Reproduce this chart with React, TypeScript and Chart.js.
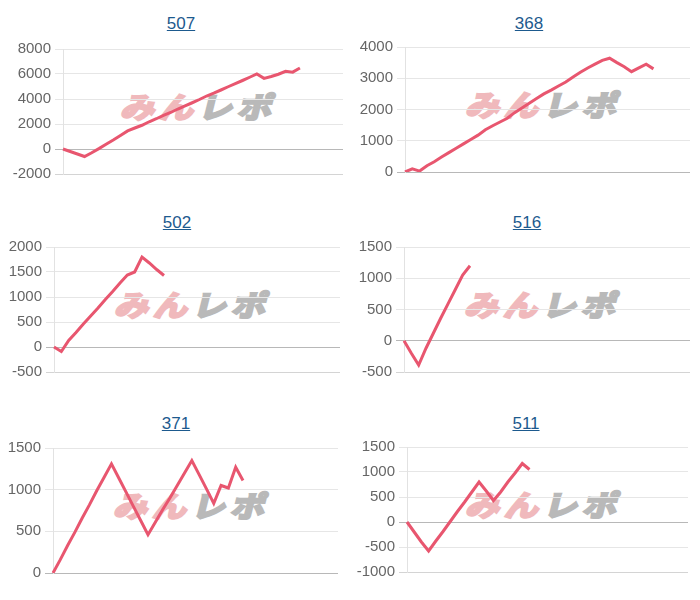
import React, { useEffect, useRef } from "react";
import { Chart, registerables } from "chart.js";

Chart.register(...registerables);

// x labels (game index), shared by all panels
const gameLabels = [
  "1", "2", "3", "4", "5", "6", "7", "8", "9", "10",
  "11", "12", "13", "14", "15", "16", "17", "18", "19", "20",
  "21", "22", "23", "24", "25", "26", "27", "28", "29", "30",
  "31", "32", "33", "34", "35", "36", "37", "38", "39", "40",
];

const titles = ["507", "368", "502", "516", "371", "511"];

const values507 = [
  0, -200, -400, -600, -300, 30, 380, 720, 1080, 1450, 1680, 1900, 2180, 2420, 2690, 2920, 3200,
  3450, 3700, 3960, 4240, 4470, 4720, 4980, 5230, 5480, 5740, 6000, 5650, 5800, 5980, 6220, 6150, 6480,
];
const values368 = [
  0, 100, 30, 200, 330, 480, 620, 760, 900, 1040, 1180, 1350, 1480, 1600, 1720, 1900, 2050, 2200,
  2350, 2500, 2620, 2750, 2880, 3040, 3190, 3330, 3450, 3570, 3640, 3500, 3370, 3210, 3330, 3450, 3300,
];
const values502 = [0, -90, 130, 290, 460, 620, 780, 950, 1110, 1280, 1440, 1500, 1800, 1680, 1550, 1430];
const values516 = [0, -200, -390, -120, 120, 360, 590, 820, 1050, 1200];
const values371 = [
  0, 160, 330, 490, 660, 820, 990, 1150, 1310, 1140, 970, 800, 630, 460, 610, 760, 900, 1050, 1200,
  1350, 1180, 1010, 835, 1050, 1020, 1270, 1110,
];
const values511 = [0, -200, -400, -580, -380, -190, 10, 210, 400, 600, 800, 620, 430, 600, 800, 980, 1170, 1050];

const yMins = [-2000, 0, -500, -500, 0, -1000];
const yMaxs = [8000, 4000, 2000, 1500, 1500, 1500];
const ySteps = [2000, 1000, 500, 500, 500, 500];
const seriesList = [values507, values368, values502, values516, values371, values511];

// layout of each panel (page pixels)
const panels = [
  { left: 0, plotLeft: 63, plotRight: 343, plotTop: 48, plotBottom: 175, titleX: 181, titleY: 24 },
  { left: 350, plotLeft: 405, plotRight: 690, plotTop: 46, plotBottom: 173, titleX: 529, titleY: 24 },
  { left: 0, plotLeft: 54, plotRight: 340, plotTop: 246, plotBottom: 373, titleX: 177, titleY: 223 },
  { left: 350, plotLeft: 404, plotRight: 690, plotTop: 246, plotBottom: 373, titleX: 527, titleY: 223 },
  { left: 0, plotLeft: 53, plotRight: 338, plotTop: 447, plotBottom: 574, titleX: 176, titleY: 424 },
  { left: 350, plotLeft: 407, plotRight: 688, plotTop: 446, plotBottom: 573, titleX: 526, titleY: 424 },
];

const PAD = 12;
const LINE_COLOR = "#e8566f";

function Panel({ idx }: { idx: number }) {
  const ref = useRef<HTMLCanvasElement | null>(null);
  const p = panels[idx];
  const width = p.plotRight - p.left;
  const height = p.plotBottom - p.plotTop + PAD * 2;
  const axisWidth = p.plotLeft - p.left;

  useEffect(() => {
    if (!ref.current) return;
    const chart = new Chart(ref.current, {
      type: "line",
      data: {
        labels: gameLabels,
        datasets: [
          {
            data: seriesList[idx],
            borderColor: LINE_COLOR,
            backgroundColor: LINE_COLOR,
            borderWidth: 3,
            pointRadius: 0,
            tension: 0,
            fill: false,
          },
        ],
      },
      options: {
        animation: false,
        responsive: false,
        maintainAspectRatio: false,
        layout: { padding: { top: PAD, bottom: PAD, left: 0, right: 0 } },
        plugins: { legend: { display: false }, tooltip: { enabled: false }, title: { display: false } },
        scales: {
          x: { display: false },
          y: {
            min: yMins[idx],
            max: yMaxs[idx],
            afterFit: (axis: any) => {
              axis.width = axisWidth;
            },
            ticks: {
              stepSize: ySteps[idx],
              color: "#666",
              padding: 4,
              font: { family: "'Liberation Sans', Arial, sans-serif", size: 15 },
              callback: (v: any) => String(v),
            },
            grid: {
              tickLength: 8,
              color: (ctx: any) => {
                if (ctx.tick && ctx.tick.value === 0) return "#b8b8b8";
                if (ctx.index === 0) return "#d4d4d4";
                return "#e6e6e6";
              },
            },
            border: { display: true, color: "#e2e2e2" },
          },
        },
      },
    });
    return () => chart.destroy();
  }, [idx]);

  const wmX = (p.plotLeft + p.plotRight) / 2 - 2;
  const wmY = (p.plotTop + p.plotBottom) / 2 - 6;

  return (
    <>
      <div
        style={{
          position: "absolute",
          left: p.titleX - 50,
          top: p.titleY - 11,
          width: 100,
          textAlign: "center",
          fontFamily: "'Liberation Sans', Arial, sans-serif",
          fontSize: 17,
          lineHeight: "22px",
        }}
      >
        <a href="#" style={{ color: "#1d5a8e", textDecoration: "underline" }}>
          {titles[idx]}
        </a>
      </div>
      <div
        style={{
          position: "absolute",
          left: wmX - 90,
          top: wmY - 18,
          width: 180,
          height: 36,
          textAlign: "center",
          fontFamily: "'Noto Sans CJK JP', sans-serif",
          fontWeight: 700,
          fontSize: 34,
          lineHeight: "36px",
          letterSpacing: 5,
          transform: "skewX(-14deg) scaleY(0.85)",
          whiteSpace: "nowrap",
          zIndex: 0,
        }}
      >
        <span style={{ color: "#f0b9bc", WebkitTextStroke: "3px #f0b9bc" }}>みん</span>
        <span style={{ color: "#b9b9b9", WebkitTextStroke: "3px #b9b9b9" }}>レポ</span>
      </div>
      <canvas
        ref={ref}
        width={width}
        height={height}
        style={{
          position: "absolute",
          left: p.left,
          top: p.plotTop - PAD,
          width,
          height,
          zIndex: 1,
        }}
      />
    </>
  );
}

export default function App() {
  return (
    <div
      style={{
        position: "absolute",
        left: 0,
        top: 0,
        width: 700,
        height: 600,
        background: "#fff",
        overflow: "hidden",
      }}
    >
      {panels.map((_, i) => (
        <Panel key={i} idx={i} />
      ))}
    </div>
  );
}
